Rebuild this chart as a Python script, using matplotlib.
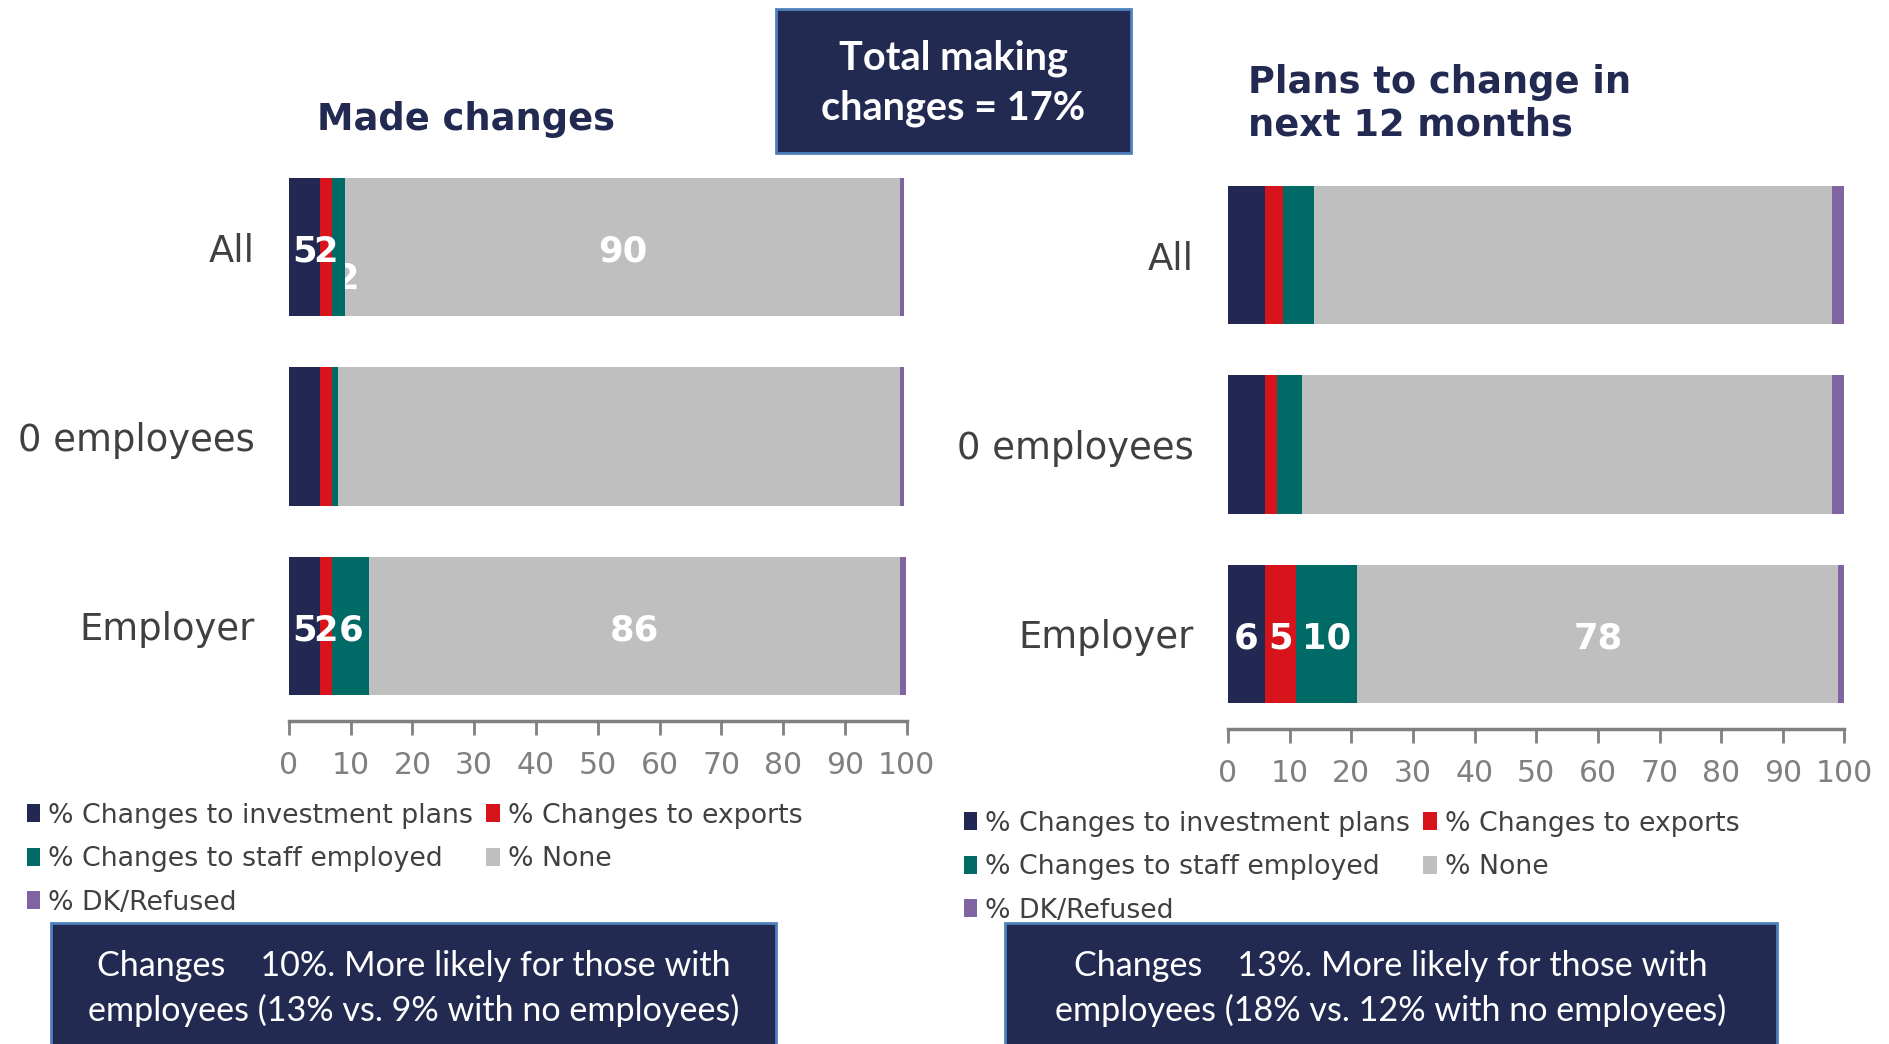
import matplotlib
matplotlib.use("Agg")
import matplotlib.pyplot as plt
from matplotlib.patches import Rectangle, Patch
import numpy as np

# ---- data ----
categories = ["All", "0 employees", "Employer"]
series_names = ["% Changes to investment plans", "% Changes to exports",
                "% Changes to staff employed", "% None", "% DK/Refused"]

made_investment = [5, 5, 5]
made_exports = [2, 2, 2]
made_staff = [2, 1, 6]
made_none = [90, 91, 86]
made_dk = [0.6, 0.6, 1]

plan_investment = [6, 6, 6]
plan_exports = [3, 2, 5]
plan_staff = [5, 4, 10]
plan_none = [84, 86, 78]
plan_dk = [2, 2, 1]

# which segments carry a value label: (row, series index)
made_labels = [(0, 0), (0, 1), (0, 3), (2, 0), (2, 1), (2, 2), (2, 3)]
made_hidden_labels = [(0, 2)]          # label tucked under the neighbouring segment
plan_labels = [(2, 0), (2, 1), (2, 2), (2, 3)]

x_ticks = list(range(0, 101, 10))

title_left = "Made changes"
title_right = "Plans to change in\nnext 12 months"
total_box_text = "Total making\nchanges = 17%"
note_left = "Changes    10%. More likely for those with\nemployees (13% vs. 9% with no employees)"
note_right = "Changes    13%. More likely for those with\nemployees (18% vs. 12% with no employees)"

# ---- style ----
colors = ["#222852", "#d7141c", "#006a66", "#bfbfbf", "#8064a2"]
navy = "#222a52"
edge_blue = "#4f81bd"
cat_color = "#404040"
tick_color = "#808080"
W, H = 1890, 1044

fig = plt.figure(figsize=(W / 100, H / 100), dpi=100)
fig.patch.set_facecolor("white")


def fx(px):
    return px / W


def fy(py):
    return 1 - py / H


def draw_panel(rect, series, labels, hidden_labels):
    ax = fig.add_axes(rect)
    y = np.arange(len(categories))
    left = np.zeros(len(categories))
    bars = []
    for i, vals in enumerate(series):
        z = 3 if i < 3 else 1
        ax.barh(y, vals, left=left, height=0.73, color=colors[i],
                edgecolor="none", zorder=z)
        bars.append((left.copy(), np.array(vals, dtype=float)))
        left = left + np.array(vals)
    for r, s in labels:
        l0, v = bars[s]
        ax.text(l0[r] + v[r] / 2, y[r] + 0.025, f"{v[r]:g}", ha="center",
                va="center", color="white", fontsize=25.5, fontweight="bold",
                family="DejaVu Sans", zorder=5)
    for r, s in hidden_labels:
        l0, v = bars[s]
        ax.text(l0[r] + v[r] + 0.4, y[r] + 0.17, f"{v[r]:g}", ha="center",
                va="center", color="white", fontsize=25.5, fontweight="bold",
                family="DejaVu Sans", zorder=2)
    ax.set_xlim(0, 100)
    ax.set_ylim(2.5, -0.5)
    ax.set_yticks(y)
    ax.set_yticklabels(categories, fontsize=26.6, color=cat_color)
    ax.set_xticks(x_ticks)
    ax.set_xticklabels([str(t) for t in x_ticks], fontsize=21.5, color=tick_color)
    ax.tick_params(axis="y", length=0, pad=25)
    ax.tick_params(axis="x", length=10, width=2, color=tick_color, pad=12)
    for side in ["top", "right", "left"]:
        ax.spines[side].set_visible(False)
    ax.spines["bottom"].set_color(tick_color)
    ax.spines["bottom"].set_linewidth(2.5)
    ax.set_facecolor("none")
    return ax


made_series = [made_investment, made_exports, made_staff, made_none, made_dk]
plan_series = [plan_investment, plan_exports, plan_staff, plan_none, plan_dk]

ax1 = draw_panel([fx(289), fy(720.5), fx(617.5), 568 / H], made_series,
                 made_labels, made_hidden_labels)
ax2 = draw_panel([fx(1228), fy(728.5), fx(616.5), 568 / H], plan_series,
                 plan_labels, [])

# titles
fig.text(fx(466), fy(119), title_left, ha="center", va="center", fontsize=26.5,
         fontweight="bold", color=navy, family="DejaVu Sans")
fig.text(fx(1248), fy(104), title_right, ha="left", va="center", fontsize=26.5,
         fontweight="bold", color=navy, family="DejaVu Sans", linespacing=1.2)

# legends (row-major order across two columns)
order = [0, 2, 4, 1, 3]
handles = [Patch(facecolor=colors[i], edgecolor="none") for i in order]
names = [series_names[i] for i in order]
for ax_x, ax_y in [(fx(8), fy(784)), (fx(945), fy(792))]:
    fig.legend(handles, names, loc="upper left", bbox_to_anchor=(ax_x, ax_y),
               ncol=2, frameon=False, fontsize=19.3, handlelength=0.5,
               handleheight=0.65, handletextpad=0.3, columnspacing=0.5,
               labelspacing=0.65, borderpad=0.2, labelcolor=cat_color)


def box(x0, y0, x1, y1, text, size, weight, ty, ls):
    fig.patches.append(Rectangle((fx(x0), fy(y1)), fx(x1 - x0), (y1 - y0) / H,
                                 transform=fig.transFigure, facecolor=navy,
                                 edgecolor=edge_blue, linewidth=2, zorder=1))
    fig.text(fx((x0 + x1) / 2), fy(ty), text, ha="center", va="center",
             fontsize=size, fontweight=weight, color="white", family="Lato",
             linespacing=ls, zorder=2)


box(776, 9, 1131, 153, total_box_text, 28.5, "bold", 83, 1.42)
box(51, 923, 776, 1050, note_left, 24.6, "normal", 988.5, 1.42)
box(1005, 923, 1777, 1050, note_right, 24.6, "normal", 988.5, 1.42)

fig.savefig("out.png", dpi=100, facecolor="white")
